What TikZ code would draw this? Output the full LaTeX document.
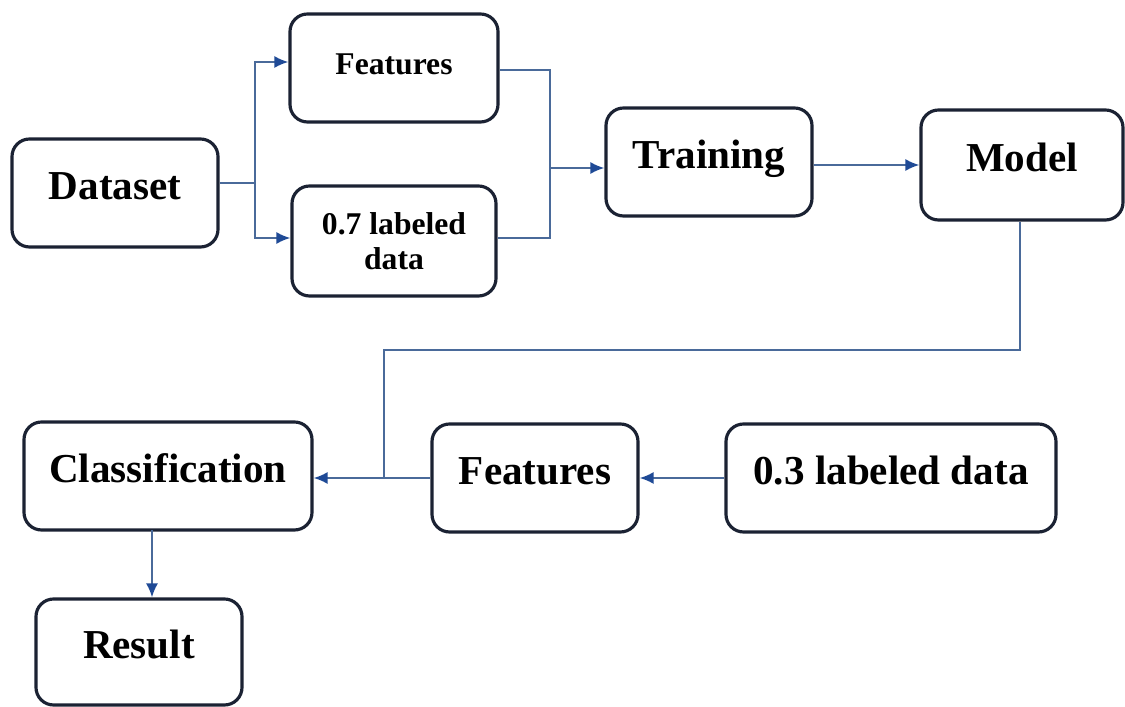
\documentclass[tikz,border=0pt]{standalone}
\usepackage{fontspec}
\setmainfont{Liberation Serif}
\usetikzlibrary{arrows.meta,positioning}
\definecolor{boxline}{HTML}{1B2233}
\definecolor{wireblue}{HTML}{4A6A9A}
\definecolor{tipblue}{HTML}{1F4A96}

\begin{document}
\begin{tikzpicture}[>={Latex[length=1.4mm,width=1.2mm,color=tipblue]},
  box/.style={draw=boxline, line width=0.9pt, rounded corners=5pt, minimum width=2.06cm, minimum height=1.08cm, align=center, font=\bfseries\fontsize{11.7}{13}\selectfont, text height=8.5pt, text depth=5pt},
  small/.style={font=\bfseries\fontsize{9}{10}\selectfont},
  wire/.style={draw=wireblue, line width=0.55pt}]
\useasboundingbox (0,0) rectangle (11.25,7.07);
\node[box, small, minimum width=2.08cm] (feat1) at (3.94,6.39) {Features};
\node[box, small, minimum width=2.04cm, minimum height=1.1cm, text height=, text depth=] (lab7) at (3.94,4.66) {0.7 labeled\\data};
\node[box] (dataset) at (1.15,5.14) {Dataset};
\node[box] (train) at (7.09,5.45) {Training};
\node[box, minimum width=2.02cm, minimum height=1.1cm] (model) at (10.22,5.42) {Model};
\node[box, minimum width=2.88cm] (classif) at (1.68,2.31) {Classification};
\node[box] (feat2) at (5.35,2.29) {Features};
\node[box, minimum width=3.3cm] (lab3) at (8.91,2.29) {0.3 labeled data};
\node[box, minimum height=1.06cm] (result) at (1.39,0.55) {Result};
% junctions
\coordinate (split) at (2.55,5.24);
\coordinate (join) at (5.50,5.39);
\coordinate (turn) at (3.84,3.57);
\coordinate (csouth) at (1.52,1.77);
\draw[wire] (dataset.east |- split) -- (split);
\draw[wire,->] (split) |- ([yshift=0.06cm]feat1.west);
\draw[wire,->] (split) |- ([yshift=0.03cm]lab7.west);
\draw[wire] ([yshift=-0.02cm]feat1.east) -| (join);
\draw[wire] ([yshift=0.03cm]lab7.east) -| (join);
\draw[wire,->] (join) -- (train.west |- join);
\draw[wire,->] (train.east |- model.west) -- (model.west);
\draw[wire] ([xshift=-0.02cm]model.south) |- (turn) -- (turn |- feat2.west);
\draw[wire,->] (feat2.west) -- (classif.east |- feat2.west);
\draw[wire,->] (lab3.west) -- (feat2.east);
\draw[wire,->] (csouth) -- (csouth |- result.north);
\end{tikzpicture}
\end{document}
